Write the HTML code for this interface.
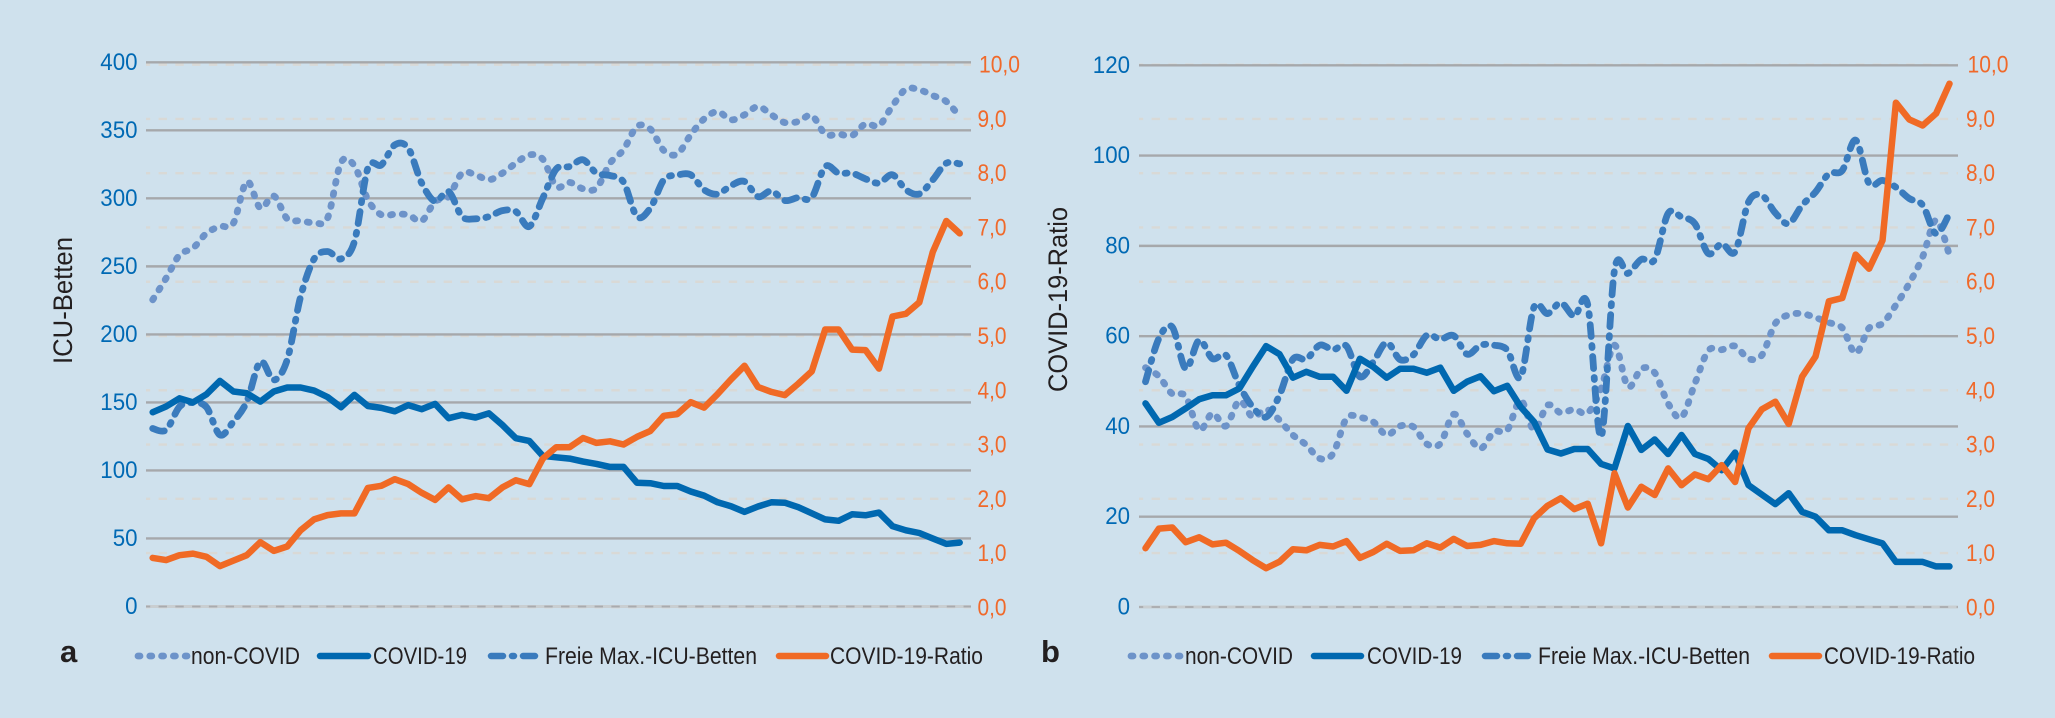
<!DOCTYPE html>
<html lang="de">
<head>
<meta charset="utf-8">
<title>ICU-Betten und COVID-19-Ratio</title>
<style>
html,body{margin:0;padding:0;background:#cfe1ed;}
body{width:2055px;height:718px;overflow:hidden;}
svg{display:block;}
text{font-family:"Liberation Sans",sans-serif;}
.leg{font-size:24.5px;fill:#231f20;}
.title{font-size:27px;fill:#231f20;}
.panel{font-size:31px;font-weight:bold;fill:#231f20;}
</style>
</head>
<body>
<svg id="chart" xmlns="http://www.w3.org/2000/svg" width="2055" height="718" viewBox="0 0 2055 718">
  <rect x="0" y="0" width="2055" height="718" fill="#cfe1ed"/>
  <g id="panel-a"></g>
  <g id="panel-b"></g>

  <text class="title" transform="translate(72,364) rotate(-90)" textLength="127" lengthAdjust="spacingAndGlyphs">ICU-Betten</text>
  <text class="title" transform="translate(1067,392) rotate(-90)" textLength="185" lengthAdjust="spacingAndGlyphs">COVID-19-Ratio</text>
  <text class="panel" x="60" y="662">a</text>
  <text class="panel" x="1041" y="662">b</text>

  <g>
    <line x1="138" y1="656" x2="187" y2="656" stroke="#6d93c9" stroke-width="6.8" stroke-linecap="round" stroke-dasharray="2 9.8"/>
    <text class="leg" x="191" y="664" textLength="109" lengthAdjust="spacingAndGlyphs">non-COVID</text>
    <line x1="320" y1="656" x2="368" y2="656" stroke="#0068b0" stroke-width="6.5" stroke-linecap="round"/>
    <text class="leg" x="373" y="664" textLength="94" lengthAdjust="spacingAndGlyphs">COVID-19</text>
    <line x1="491" y1="656" x2="535" y2="656" stroke="#3a7bbd" stroke-width="6.5" stroke-linecap="round" stroke-dasharray="12 9 2 9"/>
    <text class="leg" x="545" y="664" textLength="212" lengthAdjust="spacingAndGlyphs">Freie Max.-ICU-Betten</text>
    <line x1="779" y1="656" x2="826" y2="656" stroke="#f06a25" stroke-width="6.5" stroke-linecap="round"/>
    <text class="leg" x="830" y="664" textLength="153" lengthAdjust="spacingAndGlyphs">COVID-19-Ratio</text>
  </g>
  <g>
    <line x1="1131" y1="656" x2="1180" y2="656" stroke="#6d93c9" stroke-width="6.8" stroke-linecap="round" stroke-dasharray="2 9.8"/>
    <text class="leg" x="1185" y="664" textLength="108" lengthAdjust="spacingAndGlyphs">non-COVID</text>
    <line x1="1314" y1="656" x2="1361" y2="656" stroke="#0068b0" stroke-width="6.5" stroke-linecap="round"/>
    <text class="leg" x="1367" y="664" textLength="95" lengthAdjust="spacingAndGlyphs">COVID-19</text>
    <line x1="1485" y1="656" x2="1528" y2="656" stroke="#3a7bbd" stroke-width="6.5" stroke-linecap="round" stroke-dasharray="12 9 2 9"/>
    <text class="leg" x="1538" y="664" textLength="212" lengthAdjust="spacingAndGlyphs">Freie Max.-ICU-Betten</text>
    <line x1="1772" y1="656" x2="1819" y2="656" stroke="#f06a25" stroke-width="6.5" stroke-linecap="round"/>
    <text class="leg" x="1824" y="664" textLength="151" lengthAdjust="spacingAndGlyphs">COVID-19-Ratio</text>
  </g>
</svg>
<script>
// Tick labels
const leftTicksA = [0,50,100,150,200,250,300,350,400];
const leftTicksB = [0,20,40,60,80,100,120];
const ratioTicks = [0,1,2,3,4,5,6,7,8,9,10];
const ratioTickLabels = ["0,0","1,0","2,0","3,0","4,0","5,0","6,0","7,0","8,0","9,0","10,0"];

// Panel a: values by sample (61 samples)
const nonCovidA = [225.4,241.3,258.5,263.4,274.4,279.3,281.8,312.4,292.8,301.8,285,283.5,282.2,285.4,326.3,323.9,298.9,287.9,288.3,287.9,283.4,297.7,301.3,318.5,317.3,313.6,318.5,325.8,332,328.8,308.7,311.7,307,307.5,325.8,335.7,352.8,350.9,335.2,332.5,346.7,358.4,363.8,357.7,361.4,367.5,361.4,355.7,356.5,360.9,347.2,347.2,346.2,354.8,353.5,368,380.3,379.8,375.6,371.2,360.2];
const covidA = [142.8,147,153,150,156,165.8,158,156.8,150.6,158,161,161,158.7,154,146.5,155.5,147.4,146,143.5,148,145,148.9,138.4,140.8,138.9,142,133.4,123.7,121.7,110.7,109.7,108.7,106.5,104.8,102.6,102.6,91,90.6,88.6,88.6,84.5,81.5,76.6,73.7,69.5,73.5,76.6,76.3,73,68.5,64,63,67.8,67,69,59,56,54,50,46,47];
const freieA = [130.8,129.8,146.9,149.9,146.5,126.1,135.9,150.6,180,166.5,181.3,227.8,255.5,260.9,255.5,268.2,322.2,324.6,339.3,336.9,311.2,297.7,305,286.6,285,286.6,291,290.3,279.3,300.1,321.5,323.4,328.3,318.5,316.8,312,286.6,292.8,313.6,317.1,317.3,306.3,303.1,309.4,312.4,301.3,305.5,298.4,300.6,300.6,323.4,318.5,318.5,314.3,311.2,317.3,306.3,303.3,313.6,325.8,325.4];
const ratioA = [0.91,0.87,0.96,0.99,0.93,0.76,0.86,0.96,1.2,1.04,1.12,1.42,1.62,1.7,1.73,1.73,2.2,2.24,2.36,2.27,2.11,1.98,2.21,1.99,2.05,2.01,2.21,2.34,2.27,2.74,2.95,2.95,3.12,3.03,3.06,3,3.14,3.25,3.53,3.56,3.78,3.68,3.93,4.2,4.45,4.06,3.97,3.91,4.12,4.35,5.12,5.12,4.75,4.74,4.4,5.36,5.41,5.62,6.55,7.12,6.89];

// Panel b: values by sample (61 samples)
const nonCovidB = [53,51.1,47.2,46.7,39.2,42.9,40.1,45.7,42.1,43.8,41.4,38.1,35.9,32.9,34,41.8,42,41,38.1,40.1,39.9,36.1,36.2,42.7,38.4,35.1,38.8,39.2,45.8,39.2,44.7,43,43.8,43,48.4,58,48.8,52.8,51.9,45.1,42,49.5,56.8,57,57.8,55,55.8,62.8,64.7,65,64.1,63,61.8,56.2,61.8,62.8,66.9,71.7,77.6,85.7,77.9];
const covidB = [45.1,40.8,42.1,44,46,46.9,46.9,48.4,53.2,57.8,56,50.8,52.1,51,51,47.9,55,53.2,50.8,52.8,52.8,51.9,53,47.9,49.9,51.1,47.8,49,44.3,41,34.9,34,35,35,31.7,30.7,40.1,34.8,37.1,33.9,38.1,33.9,32.8,30.3,34.2,27,24.9,22.8,25.2,21.1,20,17,17,15.9,15,14.1,10,10,10,9,9];
const freieB = [49.9,59.5,62,52.8,59.1,55,55.8,49.1,44.3,42.1,46.9,54.9,54.9,58,57,57.8,51,54.3,58.6,54.8,55.9,60.2,59.3,60.1,56,58,58,56.9,50.9,66.5,65,67.4,64.4,67,37.7,74.6,73.9,77,77,87.2,86.4,84.9,78.3,80.5,78.7,89.7,91.2,87.3,84.9,89,91.9,96,96.7,103.4,93.8,94.5,93,90.5,89,82.7,87.2];
const ratioB = [1.09,1.45,1.47,1.2,1.29,1.16,1.19,1.04,0.87,0.72,0.84,1.07,1.05,1.15,1.12,1.22,0.91,1.02,1.17,1.04,1.05,1.18,1.1,1.26,1.13,1.15,1.22,1.18,1.17,1.64,1.87,2.01,1.81,1.91,1.18,2.47,1.84,2.22,2.07,2.56,2.25,2.45,2.36,2.62,2.31,3.3,3.65,3.79,3.38,4.25,4.62,5.64,5.7,6.5,6.24,6.76,9.3,8.99,8.88,9.1,9.65];

const NS = 'http://www.w3.org/2000/svg';
const COL = {nonCovid:'#6d93c9', covid:'#0068b0', freie:'#3a7bbd', ratio:'#f06a25', grid:'#a6a8ab', dash:'#d9d9d6', blueText:'#0069b4', orangeText:'#f0692a'};

function make(tag, attrs, parent) {
  const el = document.createElementNS(NS, tag);
  for (const k in attrs) el.setAttribute(k, attrs[k]);
  parent.appendChild(el);
  return el;
}
function linePath(pts) {
  return pts.map((p, i) => (i ? 'L' : 'M') + p[0].toFixed(1) + ' ' + p[1].toFixed(1)).join(' ');
}
function smoothPath(pts) {
  let d = 'M' + pts[0][0].toFixed(1) + ' ' + pts[0][1].toFixed(1);
  const t = 0.16;
  for (let i = 0; i < pts.length - 1; i++) {
    const p0 = pts[Math.max(i - 1, 0)], p1 = pts[i], p2 = pts[i + 1], p3 = pts[Math.min(i + 2, pts.length - 1)];
    const c1x = p1[0] + (p2[0] - p0[0]) * t, c1y = p1[1] + (p2[1] - p0[1]) * t;
    const c2x = p2[0] - (p3[0] - p1[0]) * t, c2y = p2[1] - (p3[1] - p1[1]) * t;
    d += ' C' + c1x.toFixed(1) + ' ' + c1y.toFixed(1) + ' ' + c2x.toFixed(1) + ' ' + c2y.toFixed(1) + ' ' + p2[0].toFixed(1) + ' ' + p2[1].toFixed(1);
  }
  return d;
}

function drawPanel(g, cfg) {
  const xScale = i => cfg.x0 + cfg.step * i;
  const yLeft = v => cfg.y0 - (v / cfg.leftMax) * (cfg.y0 - cfg.yTop);
  const yRatio = v => 607.3 - (v / 10) * 542.6;

  // Secondary (dashed) gridlines
  ratioTicks.forEach(function (t) {
    const el = make('line', {x1: cfg.gridL, x2: cfg.gridR, y1: yRatio(t), y2: yRatio(t), stroke: COL.dash, 'stroke-width': 2.4, 'stroke-dasharray': '8.4 8.37', 'stroke-dashoffset': 4.2}, g);
    
    
  });
  // Primary gridlines
  cfg.leftTicks.forEach(function (t) {
    const el = make('line', {x1: cfg.gridL, x2: cfg.gridR, y1: yLeft(t), y2: yLeft(t), stroke: t === 0 ? '#c9ced1' : COL.grid, 'stroke-width': t === 0 ? 3 : 2.4}, g);
    
    
  });
  // Dashed overlay on the baseline
  const base = make('line', {x1: cfg.gridL, x2: cfg.gridR, y1: yLeft(0), y2: yLeft(0), stroke: '#a9abae', 'stroke-width': 1.8, 'stroke-dasharray': '8.4 8.37', 'stroke-dashoffset': 4.2}, g);
  
  

  // Left tick labels
  cfg.leftTicks.forEach(function (t) {
    const s = String(t);
    const el = make('text', {x: cfg.leftLabelX, y: yLeft(t) + 7.5, 'text-anchor': 'end', fill: COL.blueText, 'font-size': 24, textLength: s.length * 12.4, lengthAdjust: 'spacingAndGlyphs'}, g);
    el.textContent = s;
    
    
  });
  // Right tick labels
  ratioTicks.forEach(function (t, i) {
    const s = ratioTickLabels[i];
    const el = make('text', {x: cfg.rightLabelX + (s.length === 4 ? 1.5 : 0), y: yRatio(t) + 8, fill: COL.orangeText, 'font-size': 24, textLength: s.length === 4 ? 41 : 29, lengthAdjust: 'spacingAndGlyphs'}, g);
    el.textContent = s;
    
    
  });

  // Series
  const ptsL = arr => arr.map((v, i) => [xScale(i), yLeft(v)]);
  const ptsR = arr => arr.map((v, i) => [xScale(i), yRatio(v)]);

  const s1 = make('path', {d: smoothPath(ptsL(cfg.nonCovid)), fill: 'none', stroke: COL.nonCovid, 'stroke-width': 6.8, 'stroke-linecap': 'round', 'stroke-linejoin': 'round', 'stroke-dasharray': '2 9.8'}, g);
  
  

  const s2 = make('path', {d: smoothPath(ptsL(cfg.freie)), fill: 'none', stroke: COL.freie, 'stroke-width': 6.8, 'stroke-linecap': 'round', 'stroke-linejoin': 'round', 'stroke-dasharray': '12 9 2 9'}, g);
  
  

  const s3 = make('path', {d: linePath(ptsL(cfg.covid)), fill: 'none', stroke: COL.covid, 'stroke-width': 6.5, 'stroke-linecap': 'round', 'stroke-linejoin': 'round'}, g);
  
  

  const s4 = make('path', {d: linePath(ptsR(cfg.ratio)), fill: 'none', stroke: COL.ratio, 'stroke-width': 6.5, 'stroke-linecap': 'round', 'stroke-linejoin': 'round'}, g);
  
  
}

drawPanel(document.getElementById('panel-a'), {
  x0: 152.7, step: 13.45, y0: 606.5, yTop: 62.3, leftMax: 400,
  gridL: 146, gridR: 971, leftLabelX: 137.5, rightLabelX: 977.5,
  leftTicks: leftTicksA, nonCovid: nonCovidA, covid: covidA, freie: freieA, ratio: ratioA
});
drawPanel(document.getElementById('panel-b'), {
  x0: 1145.5, step: 13.4, y0: 607, yTop: 65.3, leftMax: 120,
  gridL: 1139, gridR: 1958, leftLabelX: 1130, rightLabelX: 1966,
  leftTicks: leftTicksB, nonCovid: nonCovidB, covid: covidB, freie: freieB, ratio: ratioB
});
</script>
</body>
</html>
